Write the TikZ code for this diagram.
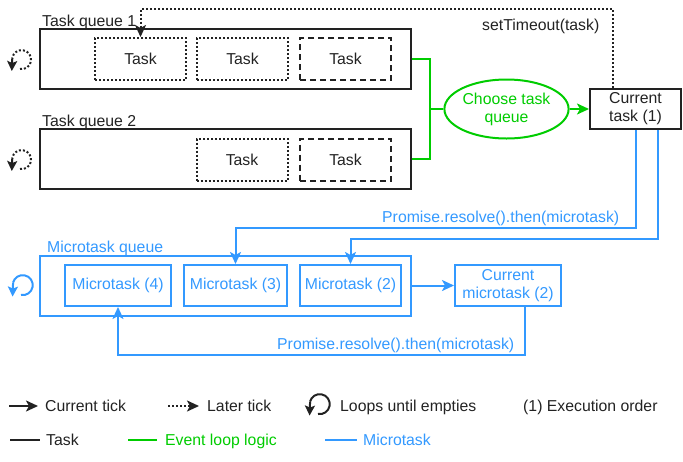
\documentclass[tikz,border=0pt]{standalone}
\usepackage{fontspec}
\setmainfont{Liberation Sans}
\usetikzlibrary{arrows.meta,shapes.geometric}
\definecolor{ink}{HTML}{222222}
\definecolor{evgreen}{HTML}{00CC00}
\definecolor{mblue}{HTML}{3399FF}
\tikzset{
  base/.style={line width=2pt, inner sep=0pt, font=\fontsize{15.8}{18}\selectfont},
  queuebox/.style={base, draw=ink, minimum width=371pt, minimum height=60pt},
  taskbox/.style={base, draw=ink, text=ink, minimum width=91pt, minimum height=42pt},
  dotline/.style={dash pattern=on 2pt off 2pt},
  dashline/.style={dash pattern=on 6pt off 4pt},
  mbox/.style={base, draw=mblue, text=mblue, minimum height=41pt},
  lbl/.style={inner sep=0pt, anchor=base west, font=\fontsize{15.8}{18}\selectfont},
  tip/.style={-{Stealth[length=12pt,width=11pt,inset=3pt]}},
  wire/.style={line width=2pt},
}
\begin{document}
\begin{tikzpicture}[x=1pt,y=-1pt]
\useasboundingbox (0,0) rectangle (683,461);

% ---------- task queues ----------
\node[queuebox] (q1) at (225.5,59) {};
\node[lbl, text=ink] (q1l) at (42,26) {Task queue 1};
\node[taskbox, dotline] (t1a) at (140.5,59) {Task};
\node[taskbox, dotline] (t1b) at (242.5,59) {Task};
\node[taskbox, dashline] (t1c) at (345.5,59) {Task};

\node[queuebox] (q2) at (225.5,159) {};
\node[lbl, text=ink] (q2l) at (42,126) {Task queue 2};
\node[taskbox, dotline] (t2a) at (242,159.5) {Task};
\node[taskbox, dashline] (t2b) at (345.5,159.5) {Task};

% loop icons (dotted)
\draw[wire, ink, dotline] (20,69) arc[start angle=100, end angle=-170, radius=9.5] coordinate (la);
\draw[wire, ink, -{Stealth[length=10pt,width=10pt,inset=2pt]}] (la) -- ++(-0.5,13);
\draw[wire, ink, dotline] (20,169) arc[start angle=100, end angle=-170, radius=9.5] coordinate (lb);
\draw[wire, ink, -{Stealth[length=10pt,width=10pt,inset=2pt]}] (lb) -- ++(-0.5,13);

% ---------- event loop logic ----------
\node[base, ellipse, draw=evgreen, text=evgreen, minimum width=121pt, minimum height=59pt, align=center] (choose) at (506.5,109) {Choose task\\queue};
\coordinate (j) at (430,109);
\draw[wire, evgreen] (q1.east) -| (j);
\draw[wire, evgreen] (q2.east) -| (j);
\draw[wire, evgreen] (j) -- (choose.west);

\node[base, draw=ink, text=ink, minimum width=91pt, minimum height=40pt, align=center] (cur) at (635.5,109) {Current\\task (1)};
\draw[wire, evgreen, tip] (choose.east) -- (cur.west);

% setTimeout dotted connector
\coordinate (st) at (140.5,9);
\draw[wire, ink, dotline, tip] ([xshift=-22.5pt]cur.north) |- (st) -- (t1a.north);
\node[lbl, text=ink] (stl) at (482,30) {setTimeout(task)};

% ---------- microtask queue ----------
\node[base, draw=mblue, minimum width=371pt, minimum height=60pt] (mq) at (225.5,285.5) {};
\node[lbl, text=mblue] (mql) at (47,252) {Microtask queue};
\node[mbox, minimum width=106pt] (m4) at (118,285.5) {Microtask (4)};
\node[mbox, minimum width=103pt] (m3) at (235.5,285.5) {Microtask (3)};
\node[mbox, minimum width=101pt] (m2) at (350.5,285.5) {Microtask (2)};
\node[mbox, minimum width=106pt, align=center] (cm) at (508,285.5) {Current\\microtask (2)};

\draw[wire, mblue] (21,295) arc[start angle=100, end angle=-165, radius=10] coordinate (lc);
\draw[wire, mblue, -{Stealth[length=10pt,width=10pt,inset=2pt]}] (lc) -- ++(-0.5,14);

\coordinate (b1) at (235.5,228);
\coordinate (b2) at (350.5,239);
\draw[wire, mblue, tip] (cur.south) |- (b1) -- (m3.north);
\draw[wire, mblue, tip] ([xshift=22.5pt]cur.south) |- (b2) -- (m2.north);
\node[lbl, text=mblue] (p1) at (382,222) {Promise.resolve().then(microtask)};

\draw[wire, mblue, tip] (mq.east) -- (cm.west);
\coordinate (b3) at (118,355);
\draw[wire, mblue, tip] ([xshift=17pt]cm.south) |- (b3) -- (m4.south);
\node[lbl, text=mblue] (p2) at (277,349) {Promise.resolve().then(microtask)};

% ---------- legend ----------
\coordinate (a1s) at (9,406); \coordinate (a1e) at (38,406);
\draw[wire, ink, tip] (a1s) -- (a1e);
\node[lbl, text=ink] (lg1) at (45,411.5) {Current tick};
\coordinate (a2s) at (168,406); \coordinate (a2e) at (199,406);
\draw[wire, ink, dotline, tip] (a2s) -- (a2e);
\node[lbl, text=ink] (lg2) at (207,411.5) {Later tick};
\draw[wire, ink] (318,414) arc[start angle=100, end angle=-165, radius=10] coordinate (ld);
\draw[wire, ink, -{Stealth[length=10pt,width=10pt,inset=2pt]}] (ld) -- ++(-0.5,14);
\node[lbl, text=ink] (lg3) at (340,411.5) {Loops until empties};
\node[lbl, text=ink] (lg4) at (523,411.5) {(1) Execution order};

\coordinate (b1s) at (10,440); \coordinate (b1e) at (40,440);
\draw[wire, ink] (b1s) -- (b1e);
\node[lbl, text=ink] (lg5) at (46,445.5) {Task};
\coordinate (b2s) at (128,440); \coordinate (b2e) at (157,440);
\draw[wire, evgreen] (b2s) -- (b2e);
\node[lbl, text=evgreen] (lg6) at (165,445.5) {Event loop logic};
\coordinate (b3s) at (325,440); \coordinate (b3e) at (357,440);
\draw[wire, mblue] (b3s) -- (b3e);
\node[lbl, text=mblue] (lg7) at (363,445.5) {Microtask};
\end{tikzpicture}
\end{document}
